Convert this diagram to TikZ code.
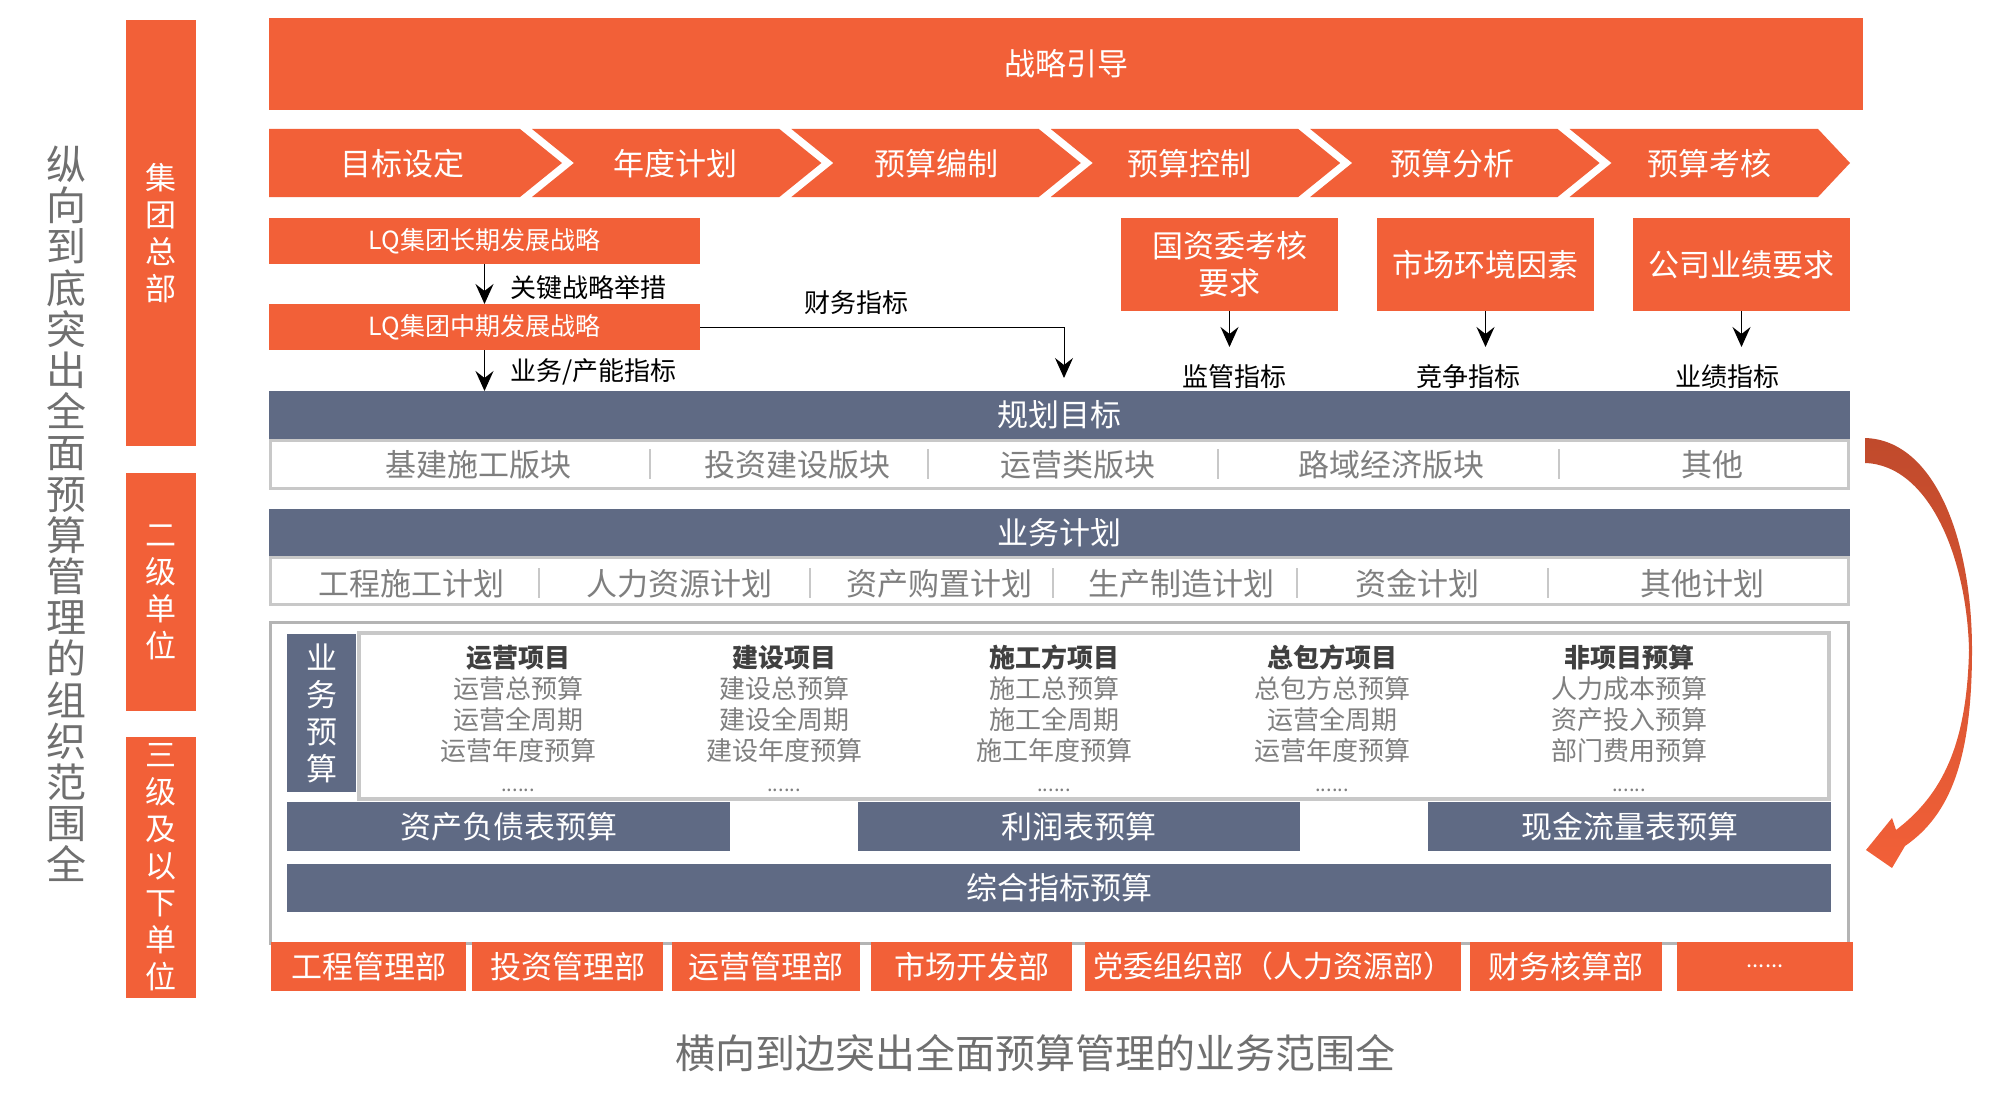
\documentclass[tikz,border=0pt]{standalone}
\usepackage{fontspec}
\setmainfont{Noto Sans CJK SC}
\usepackage{xcolor}
\usepackage{tikz}
\usetikzlibrary{arrows.meta}

\definecolor{lqorange}{HTML}{F26038}
\definecolor{lqred}{HTML}{C04A2C}
\definecolor{lqslate}{HTML}{5F6A84}
\definecolor{lqgray}{HTML}{7F7F7F}
\definecolor{lqdark}{HTML}{404040}
\definecolor{lqline}{HTML}{C8C8C8}
\definecolor{lqframe}{HTML}{B4B4B4}
\definecolor{lqcap}{HTML}{6F6F6F}

\tikzset{
  base/.style={inner sep=0pt, outer sep=0pt, align=center},
  obox/.style={base, fill=lqorange, text=white, font=\fontsize{31}{37}\selectfont},
  sbox/.style={base, fill=lqslate, text=white, font=\fontsize{31}{37}\selectfont},
  pbox/.style={base, draw=lqline, line width=3pt, fill=white},
  chevtext/.style={base, text=white, font=\fontsize{31}{37}\selectfont},
  item/.style={base, text=lqgray, font=\fontsize{31}{37}\selectfont},
  col/.style={base, anchor=north, text=lqgray, font=\fontsize{26}{31}\selectfont},
  tag/.style={base, text=black, font=\fontsize{26}{31}\selectfont},
  sep/.style={draw=lqline, line width=1.5pt},
  flow/.style={-{Stealth[length=20pt,width=18pt,inset=7pt]}, line width=1.5pt},
}

\begin{document}
\begin{tikzpicture}[x=1pt,y=-1pt]
		\useasboundingbox (0,0) rectangle (2006,1105);
		%
		\node[base, text=lqcap, font=\fontsize{40}{41.2}\selectfont] (vcap) at (66,514)
			{纵\\向\\到\\底\\突\\出\\全\\面\\预\\算\\管\\理\\的\\组\\织\\范\\围\\全};
		\node[obox, minimum width=70pt, minimum height=426pt] (hq) at (161,233) {集\\团\\总\\部};
		\node[obox, minimum width=70pt, minimum height=238pt] (lvtwo) at (161,592) {二\\级\\单\\位};
		\node[obox, minimum width=70pt, minimum height=261pt] (lvthree) at (161,867.5) {三\\级\\及\\以\\下\\单\\位};
		%
		\node[obox, minimum width=1594pt, minimum height=92pt] (guide) at (1066,64) {战略引导};
		%
		\fill[lqorange] (269,129) -- (520,129) -- (562,163) -- (520,197) -- (269,197) -- cycle;
		\fill[lqorange] (532,129) -- (779.4,129) -- (821.4,163) -- (779.4,197) -- (532,197) -- (574,163) -- cycle;
		\fill[lqorange] (791.4,129) -- (1038.8,129) -- (1080.8,163) -- (1038.8,197) -- (791.4,197) -- (833.4,163) -- cycle;
		\fill[lqorange] (1050.8,129) -- (1298.2,129) -- (1340.2,163) -- (1298.2,197) -- (1050.8,197) -- (1092.8,163) -- cycle;
		\fill[lqorange] (1310.2,129) -- (1557.6,129) -- (1599.6,163) -- (1557.6,197) -- (1310.2,197) -- (1352.2,163) -- cycle;
		\fill[lqorange] (1569.6,129) -- (1818,129) -- (1850,163) -- (1818,197) -- (1569.6,197) -- (1611.6,163) -- cycle;
		\node[chevtext] (goal) at (402,164) {目标设定};
		\node[chevtext] (annual) at (675,164) {年度计划};
		\node[chevtext] (compile) at (936,164) {预算编制};
		\node[chevtext] (control) at (1189,164) {预算控制};
		\node[chevtext] (analyse) at (1452,164) {预算分析};
		\node[chevtext] (assess) at (1709,164) {预算考核};
		%
		\node[obox, font=\fontsize{25}{30}\selectfont, minimum width=431pt, minimum height=46pt] (lqlong) at (484.5,241) {LQ集团长期发展战略};
		\node[obox, font=\fontsize{25}{30}\selectfont, minimum width=431pt, minimum height=46pt] (lqmid) at (484.5,327) {LQ集团中期发展战略};
		\node[obox, minimum width=217pt, minimum height=93pt] (sasac) at (1229.5,264.5) {国资委考核\\要求};
		\node[obox, minimum width=217pt, minimum height=93pt] (market) at (1485.5,264.5) {市场环境因素};
		\node[obox, minimum width=217pt, minimum height=93pt] (perf) at (1741.5,264.5) {公司业绩要求};
		%
		\node[sbox, minimum width=1581pt, minimum height=48pt] (plan) at (1059.5,415) {规划目标};
		\node[pbox, minimum width=1578pt, minimum height=48pt] (planrow) at (1059.5,464.5) {};
		\node[item] (pa) at (478,465) {基建施工版块};
		\node[item] (pb) at (797,465) {投资建设版块};
		\node[item] (pc) at (1078,465) {运营类版块};
		\node[item] (pd) at (1391,465) {路域经济版块};
		\node[item] (pe) at (1712,465) {其他};
		\draw[sep] (650,449) -- (650,479);
		\draw[sep] (928,449) -- (928,479);
		\draw[sep] (1218,449) -- (1218,479);
		\draw[sep] (1559,449) -- (1559,479);
		%
		\node[sbox, minimum width=1581pt, minimum height=47pt] (bizplan) at (1059.5,532.5) {业务计划};
		\node[pbox, minimum width=1578pt, minimum height=47pt] (bizrow) at (1059.5,581) {};
		\node[item] (qa) at (411,584) {工程施工计划};
		\node[item] (qb) at (679,584) {人力资源计划};
		\node[item] (qc) at (939,584) {资产购置计划};
		\node[item] (qd) at (1181,584) {生产制造计划};
		\node[item] (qe) at (1417,584) {资金计划};
		\node[item] (qf) at (1702,584) {其他计划};
		\draw[sep] (539,568) -- (539,598);
		\draw[sep] (810,568) -- (810,598);
		\draw[sep] (1053,568) -- (1053,598);
		\draw[sep] (1297,568) -- (1297,598);
		\draw[sep] (1548,568) -- (1548,598);
		%
		\path[flow]
		(lqlong) edge (lqmid)
		(lqmid.south) edge (lqmid.south |- plan.north)
		(sasac.south) edge ++(0,36)
		(market.south) edge ++(0,36)
		(perf.south) edge ++(0,36);
		\coordinate (finend) at (1064,378);
		\draw[flow, line width=1pt] (lqmid.east) -| (finend);
		\node[tag, anchor=west] (keyact) at (510,288) {关键战略举措};
		\node[tag, anchor=west] (bizind) at (510,372) {业务/产能指标};
		\node[tag] (finind) at (856,303) {财务指标};
		\node[tag] (supind) at (1234,377) {监管指标};
		\node[tag] (compind) at (1468,377) {竞争指标};
		\node[tag] (perfind) at (1727,377) {业绩指标};
		%
		\node[pbox, draw=lqframe, minimum width=1578pt, minimum height=321pt] (budget) at (1059.5,783) {};
		\node[pbox, line width=4pt, minimum width=1470pt, minimum height=166pt] (projects) at (1094,716) {};
		\node[sbox, minimum width=69pt, minimum height=158pt] (bizbud) at (321.5,713) {业\\务\\预\\算};
		\node[col] (opr) at (518,645) {\textcolor{lqdark}{\bfseries 运营项目}\\运营总预算\\运营全周期\\运营年度预算\\{\fontsize{20}{31}\selectfont ......}};
		\node[col] (cons) at (784,645) {\textcolor{lqdark}{\bfseries 建设项目}\\建设总预算\\建设全周期\\建设年度预算\\{\fontsize{20}{31}\selectfont ......}};
		\node[col] (build) at (1054,645) {\textcolor{lqdark}{\bfseries 施工方项目}\\施工总预算\\施工全周期\\施工年度预算\\{\fontsize{20}{31}\selectfont ......}};
		\node[col] (epc) at (1332,645) {\textcolor{lqdark}{\bfseries 总包方项目}\\总包方总预算\\运营全周期\\运营年度预算\\{\fontsize{20}{31}\selectfont ......}};
		\node[col] (nonp) at (1629,645) {\textcolor{lqdark}{\bfseries 非项目预算}\\人力成本预算\\资产投入预算\\部门费用预算\\{\fontsize{20}{31}\selectfont ......}};
		%
		\node[sbox, minimum width=443pt, minimum height=49pt] (balance) at (508.5,826.5) {资产负债表预算};
		\node[sbox, minimum width=442pt, minimum height=49pt] (profit) at (1079,826.5) {利润表预算};
		\node[sbox, minimum width=403pt, minimum height=49pt] (cash) at (1629.5,826.5) {现金流量表预算};
		\node[sbox, minimum width=1544pt, minimum height=48pt] (overall) at (1059,888) {综合指标预算};
		%
		\node[obox, minimum width=195pt, minimum height=49pt] (dpa) at (368.5,966.5) {工程管理部};
		\node[obox, minimum width=191pt, minimum height=49pt] (dpb) at (567.5,966.5) {投资管理部};
		\node[obox, minimum width=188pt, minimum height=49pt] (dpc) at (766,966.5) {运营管理部};
		\node[obox, minimum width=201pt, minimum height=49pt] (dpd) at (971.5,966.5) {市场开发部};
		\node[obox, font=\fontsize{30}{36}\selectfont, minimum width=376pt, minimum height=49pt] (dpe) at (1273,966.5) {党委组织部（人力资源部）};
		\node[obox, minimum width=192pt, minimum height=49pt] (dpf) at (1566,966.5) {财务核算部};
		\node[obox, font=\fontsize{22}{26}\selectfont, minimum width=176pt, minimum height=49pt] (dpg) at (1765,966.5) {......};
		%
		\node[base, text=lqcap, font=\fontsize{40}{48}\selectfont] (hcap) at (1035,1053) {横向到边突出全面预算管理的业务范围全};
		%
		\shade[top color=lqred, bottom color=lqorange]
		(1865,438) .. controls (1935,440) and (1972,540) .. (1972,650)
		.. controls (1972,760) and (1950,815) .. (1905,846)
		-- (1892,868) -- (1866,850) -- (1892,818) -- (1896,830)
		.. controls (1942,795) and (1967,745) .. (1969,650)
		.. controls (1967,560) and (1930,465) .. (1865,463) -- cycle;
\end{tikzpicture}
\end{document}
